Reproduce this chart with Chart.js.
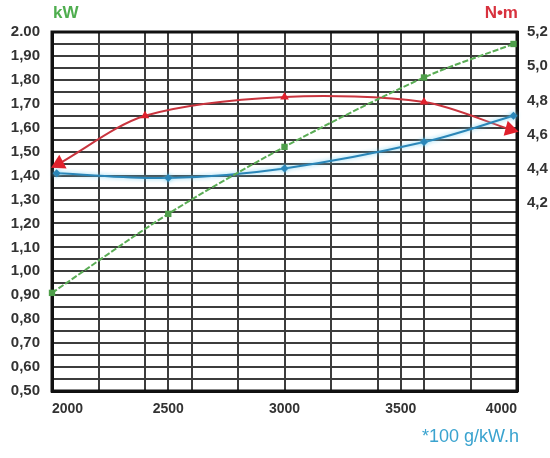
<!DOCTYPE html>
<html>
<head>
<meta charset="utf-8">
<script src="https://cdn.jsdelivr.net/npm/chart.js@4"></script>
<style>
body { margin: 0; background: #fff; }
#wrap { position: relative; width: 550px; height: 458px; }
#myChart { display: block; }
.unit { position: absolute; font-family: "Liberation Sans", Arial, sans-serif; line-height: 1; white-space: nowrap; }
</style>
</head>
<body>
<div id="wrap">
  <canvas id="myChart" width="550" height="458"></canvas>
  <div class="unit" style="left:53px;top:4px;font-size:17px;font-weight:bold;color:#4fae4f">kW</div>
  <div class="unit" style="right:32px;top:4px;font-size:17px;font-weight:bold;color:#d8323e">N•m</div>
  <div class="unit" style="right:31px;top:427px;font-size:18px;color:#3aa3cf">*100 g/kW.h</div>
</div>
<script>
// rpm grid lines and the ones that get a label
var rpmGrid = [2000, 2200, 2400, 2500, 2600, 2800, 3000, 3200, 3400, 3500, 3600, 3800, 4000];
var rpmLabels = [2000, 2500, 3000, 3500, 4000];

// left axis (kW and fuel), grid every 0.05, label every 0.10
var leftGrid = [0.50, 0.55, 0.60, 0.65, 0.70, 0.75, 0.80, 0.85, 0.90, 0.95, 1.00, 1.05, 1.10, 1.15, 1.20,
                1.25, 1.30, 1.35, 1.40, 1.45, 1.50, 1.55, 1.60, 1.65, 1.70, 1.75, 1.80, 1.85, 1.90, 1.95, 2.00];
var leftLabels = ['0,50', '0,60', '0,70', '0,80', '0,90', '1,00', '1,10', '1,20', '1,30', '1,40',
                  '1,50', '1,60', '1,70', '1,80', '1,90', '2.00'];

// right axis (torque)
var rightTicks = [4.2, 4.4, 4.6, 4.8, 5.0, 5.2];
var rightLabels = ['4,2', '4,4', '4,6', '4,8', '5,0', '5,2'];

// power kW
var rpmPower = [2000, 2500, 3000, 3600, 3985];
var power = [0.91, 1.24, 1.52, 1.81, 1.95];

// fuel consumption *100 g/kW.h
var rpmFuel = [2020, 2500, 3000, 3600, 3985];
var fuel = [1.41, 1.39, 1.43, 1.54, 1.65];

// torque N.m
var rpmTorque = [2030, 2400, 3000, 3600, 3970];
var torque = [4.43, 4.71, 4.82, 4.79, 4.63];

function pairs(xs, ys) {
  return xs.map(function(x, i) { return { x: x, y: ys[i] }; });
}

var fontSide = { family: '"Liberation Sans", Arial, sans-serif', size: 15, weight: 'bold' };
var fontBottom = { family: '"Liberation Sans", Arial, sans-serif', size: 14, weight: 'bold' };

var frame = {
  id: 'frame',
  beforeDatasetsDraw: function(chart) {
    var a = chart.chartArea, ctx = chart.ctx;
    ctx.save();
    ctx.strokeStyle = '#111';
    ctx.lineWidth = 3;
    ctx.strokeRect(a.left, a.top, a.right - a.left, a.bottom - a.top);
    ctx.restore();
  },
  beforeDatasetDraw: function(chart, args) {
    if (args.index === 1) {
      chart.ctx.save();
      chart.ctx.shadowColor = 'rgba(110,205,240,0.9)';
      chart.ctx.shadowBlur = 4;
    }
  },
  afterDatasetDraw: function(chart, args) {
    if (args.index === 1) chart.ctx.restore();
  }
};

var ctx = document.getElementById('myChart').getContext('2d');
var myChart = new Chart(ctx, {
  type: 'line',
  data: {
    datasets: [{
      label: 'kW',
      data: pairs(rpmPower, power),
      yAxisID: 'y',
      borderColor: '#5aac55',
      backgroundColor: '#4e9e4a',
      borderWidth: 2,
      borderDash: [6, 2],
      tension: 0.3,
      pointStyle: 'rect',
      pointRadius: 4.5,
      pointBorderWidth: 0,
      clip: false
    }, {
      label: 'g/kW.h',
      data: pairs(rpmFuel, fuel),
      yAxisID: 'y',
      borderColor: '#2a86b8',
      backgroundColor: '#2a86b8',
      borderWidth: 2,
      tension: 0.35,
      pointStyle: 'rectRot',
      pointRadius: 4,
      pointBorderWidth: 0,
      clip: false
    }, {
      label: 'N.m',
      data: pairs(rpmTorque, torque),
      yAxisID: 'y1',
      borderColor: '#c9343e',
      backgroundColor: '#e0202c',
      borderWidth: 2,
      tension: 0.3,
      pointStyle: 'triangle',
      pointRadius: [9, 5, 5, 5, 9],
      pointRotation: [242, 0, 0, 0, 105],
      pointBorderWidth: 0,
      clip: false
    }]
  },
  options: {
    responsive: false,
    animation: false,
    devicePixelRatio: 1,
    layout: { padding: { top: 32, left: 0, right: 0, bottom: 0 } },
    plugins: { legend: { display: false }, tooltip: { enabled: false } },
    scales: {
      x: {
        type: 'linear',
        min: 2000,
        max: 4000,
        afterBuildTicks: function(scale) {
          scale.ticks = rpmGrid.map(function(v) { return { value: v }; });
        },
        afterFit: function(scale) { scale.height = 67; },
        grid: { color: '#3c3c3c', lineWidth: 2, drawTicks: false },
        border: { color: '#111', width: 3 },
        ticks: {
          autoSkip: false,
          maxRotation: 0,
          align: 'inner',
          padding: 10,
          color: '#333',
          font: fontBottom,
          callback: function(v) { return rpmLabels.indexOf(v) >= 0 ? String(v) : ''; }
        }
      },
      y: {
        position: 'left',
        min: 0.5,
        max: 2.0,
        afterBuildTicks: function(scale) {
          scale.ticks = leftGrid.map(function(v) { return { value: v }; });
        },
        afterFit: function(scale) { scale.width = 52; },
        grid: { color: '#3c3c3c', lineWidth: 2, drawTicks: false },
        border: { color: '#111', width: 3 },
        ticks: {
          autoSkip: false,
          padding: 12,
          color: '#333',
          font: fontSide,
          callback: function(v, i) { return i % 2 === 0 ? leftLabels[i / 2] : ''; }
        }
      },
      y1: {
        position: 'right',
        min: 3.1,
        max: 5.2,
        afterBuildTicks: function(scale) {
          scale.ticks = rightTicks.map(function(v) { return { value: v }; });
        },
        afterFit: function(scale) { scale.width = 33; },
        grid: { display: false, drawTicks: false },
        border: { color: '#111', width: 3 },
        ticks: {
          autoSkip: false,
          padding: 10,
          color: '#333',
          font: fontSide,
          callback: function(v, i) { return rightLabels[i]; }
        }
      }
    }
  },
  plugins: [frame]
});
</script>
</body>
</html>
